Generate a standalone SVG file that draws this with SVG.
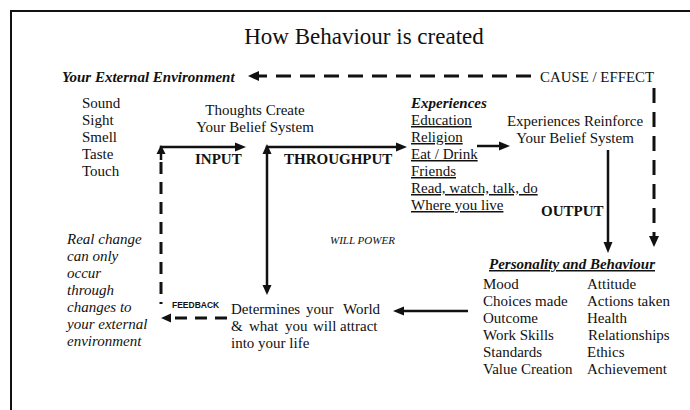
<svg xmlns="http://www.w3.org/2000/svg" width="690" height="410" viewBox="0 0 690 410">
<style>
.t{font-family:"Liberation Serif","Times New Roman",serif;font-size:15px;fill:#111}
.b{font-weight:bold}
.i{font-style:italic}
.u{text-decoration:underline}
.title{font-family:"Liberation Serif","Times New Roman",serif;font-size:23px;fill:#111}
.fb{font-family:"Liberation Sans",Arial,sans-serif;font-size:8.5px;font-weight:bold;fill:#111}
.wp{font-family:"Liberation Serif","Times New Roman",serif;font-size:11px;font-style:italic;fill:#111}
.solid{fill:none;stroke:#111;stroke-width:2.5}
.dash{fill:none;stroke:#111;stroke-width:3;stroke-dasharray:15 9}
.dash2{fill:none;stroke:#111;stroke-width:3;stroke-dasharray:12 8}
.head{fill:#111}
</style>
<rect x="11" y="11" width="700" height="420" fill="none" stroke="#111" stroke-width="2"/>
<text class="title" x="364" y="44" text-anchor="middle">How Behaviour is created</text>

<g id="connectors">
<line class="dash" x1="531" y1="76" x2="258" y2="76"/>
<polygon class="head" points="248,76 259,71 259,81"/>
<line class="dash" x1="654" y1="88" x2="654" y2="236"/>
<polygon class="head" points="654,247 649,236 659,236"/>
<path class="solid" d="M161,160 L161,147 L236,147"/>
<polygon class="head" points="246,147 235,142.5 235,151.5"/>
<polygon class="head" points="161,145 156.5,154 165.5,154"/>
<line class="dash2" x1="161" y1="162" x2="161" y2="304"/>
<line class="dash2" x1="227" y1="318" x2="170" y2="318"/>
<polygon class="head" points="161,318 171,313.5 171,322.5"/>
<path class="solid" d="M267,285 L267,147 L398,147"/>
<polygon class="head" points="407,147 396,142.5 396,151.5"/>
<polygon class="head" points="267,144 262.5,154 271.5,154"/>
<polygon class="head" points="267,295 262.5,285 271.5,285"/>
<line class="solid" x1="477" y1="146" x2="500" y2="146"/>
<polygon class="head" points="510,146 499,141.5 499,150.5"/>
<line class="solid" x1="608" y1="150" x2="608" y2="242"/>
<polygon class="head" points="608,253 603.5,242 612.5,242"/>
<line class="solid" x1="468" y1="311" x2="403" y2="311"/>
<polygon class="head" points="393,311 404,306.5 404,315.5"/>
</g>

<g id="external-environment">
<text class="t b i" x="62" y="82">Your External Environment</text>
</g>
<g id="cause-effect">
<text class="t" x="540" y="82" textLength="114" lengthAdjust="spacingAndGlyphs">CAUSE / EFFECT</text>
</g>
<g id="senses">
<text class="t" x="82" y="108">Sound</text>
<text class="t" x="82" y="125">Sight</text>
<text class="t" x="82" y="142">Smell</text>
<text class="t" x="82" y="159">Taste</text>
<text class="t" x="82" y="176">Touch</text>
</g>
<g id="thoughts">
<text class="t" x="255" y="115" text-anchor="middle">Thoughts Create</text>
<text class="t" x="255" y="132" text-anchor="middle">Your Belief System</text>
</g>
<g id="labels">
<text class="t b" x="195" y="164">INPUT</text>
<text class="t b" x="284" y="164">THROUGHPUT</text>
<text class="t b" x="541" y="216">OUTPUT</text>
<text class="wp" x="330" y="244">WILL POWER</text>
<text class="fb" x="172" y="308">FEEDBACK</text>
</g>
<g id="experiences">
<text class="t b i" x="411" y="108">Experiences</text>
<text class="t u" x="411" y="125">Education</text>
<text class="t u" x="411" y="142">Religion</text>
<text class="t u" x="411" y="159">Eat / Drink</text>
<text class="t u" x="411" y="176">Friends</text>
<text class="t u" x="411" y="193">Read, watch, talk, do</text>
<text class="t u" x="411" y="210">Where you live</text>
</g>
<g id="reinforce">
<text class="t" x="575" y="126" text-anchor="middle">Experiences Reinforce</text>
<text class="t" x="575" y="143" text-anchor="middle">Your Belief System</text>
</g>
<g id="personality">
<text class="t b i u" x="489" y="269" textLength="166" lengthAdjust="spacingAndGlyphs">Personality and Behaviour</text>
<text class="t" x="483" y="289">Mood</text>
<text class="t" x="483" y="306">Choices made</text>
<text class="t" x="483" y="323">Outcome</text>
<text class="t" x="483" y="340">Work Skills</text>
<text class="t" x="483" y="357">Standards</text>
<text class="t" x="483" y="374">Value Creation</text>
<text class="t" x="587" y="289">Attitude</text>
<text class="t" x="587" y="306">Actions taken</text>
<text class="t" x="587" y="323">Health</text>
<text class="t" x="588" y="340">Relationships</text>
<text class="t" x="587" y="357">Ethics</text>
<text class="t" x="587" y="374">Achievement</text>
</g>
<g id="determines">
<text class="t" y="314"><tspan x="231">Determines</tspan><tspan x="306">your</tspan><tspan x="343">World</tspan></text>
<text class="t" y="331"><tspan x="231">&amp;</tspan><tspan x="249">what</tspan><tspan x="285">you</tspan><tspan x="313">will</tspan><tspan x="340">attract</tspan></text>
<text class="t" x="231" y="348">into your life</text>
</g>
<g id="real-change">
<text class="t i" x="67" y="244">Real change</text>
<text class="t i" x="67" y="261">can only</text>
<text class="t i" x="67" y="278">occur</text>
<text class="t i" x="67" y="295">through</text>
<text class="t i" x="67" y="312">changes to</text>
<text class="t i" x="67" y="329">your external</text>
<text class="t i" x="67" y="346">environment</text>
</g>
</svg>
